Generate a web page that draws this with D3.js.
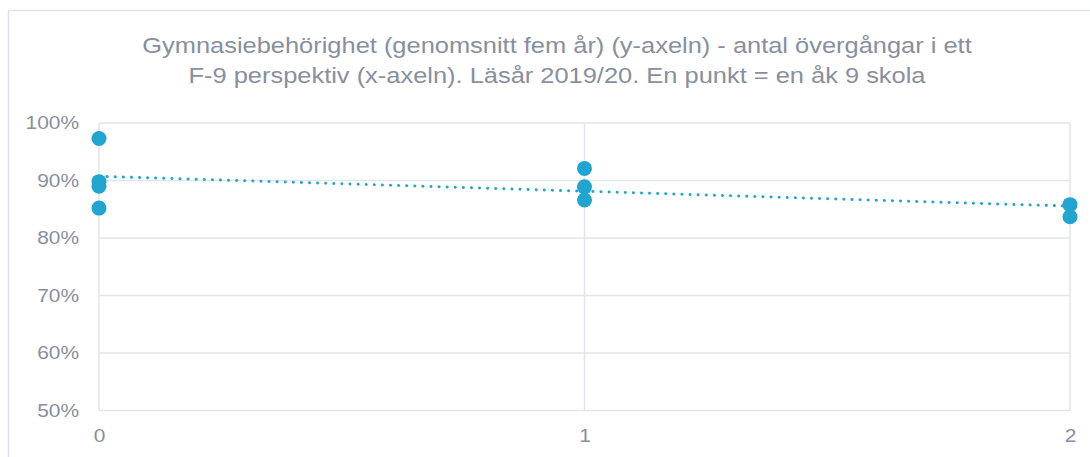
<!DOCTYPE html>
<html>
<head>
<meta charset="utf-8">
<script src="https://cdn.jsdelivr.net/npm/d3@7"></script>
<style>
  html, body { margin: 0; padding: 0; background: #fff; }
  svg { display: block; font-family: "Liberation Sans", Arial, sans-serif; }
</style>
</head>
<body>
<svg id="chart" width="1090" height="457"></svg>
<script>
// Number of transitions in an F-9 perspective (x) and five-year average eligibility (y)
const transitions = [0, 0, 0, 0, 1, 1, 1, 2, 2];
const eligibility = [0.973, 0.898, 0.890, 0.852, 0.921, 0.889, 0.866, 0.858, 0.837];
const xTicks = [0, 1, 2];
const yTicks = [0.5, 0.6, 0.7, 0.8, 0.9, 1.0];
const titleLines = [
  "Gymnasiebehörighet (genomsnitt fem år) (y-axeln) - antal övergångar i ett",
  "F-9 perspektiv (x-axeln). Läsår 2019/20. En punkt = en åk 9 skola"
];

const svg = d3.select("#chart");
const W = 1090, H = 457;
const plot = { left: 99, right: 1070, top: 123, bottom: 410.5 };
const dotColor = "#1fa5d0";
const gridColor = "#e3e5ea";
const textColor = "#878fa0";
const widen = 1.13; // labels are set slightly wider than the regular face

// Stretch each text horizontally by the widen factor
function widenText(sel) {
  sel.each(function () {
    const w = this.getComputedTextLength();
    d3.select(this).attr("textLength", w * widen).attr("lengthAdjust", "spacingAndGlyphs");
  });
}

// Outer chart frame
svg.append("rect")
  .attr("x", 8.5).attr("y", 10.5)
  .attr("width", W + 20).attr("height", H + 20)
  .attr("fill", "#fff").attr("stroke", "#dfe2e7").attr("stroke-width", 1.5);

const x = d3.scaleLinear().domain([0, 2]).range([plot.left, plot.right]);
const y = d3.scaleLinear().domain([0.5, 1.0]).range([plot.bottom, plot.top]);

// Title
svg.append("g")
  .selectAll("text").data(titleLines).join("text")
  .attr("x", 557)
  .attr("y", (d, i) => 53 + i * 29.5)
  .attr("text-anchor", "middle")
  .attr("fill", textColor)
  .style("font-size", "22.5px")
  .text(d => d)
  .call(widenText);

// Horizontal gridlines
svg.append("g")
  .selectAll("line").data(yTicks).join("line")
  .attr("x1", plot.left).attr("x2", plot.right)
  .attr("y1", d => y(d)).attr("y2", d => y(d))
  .attr("stroke", gridColor).attr("stroke-width", 1.5);

// Vertical gridlines
svg.append("g")
  .selectAll("line").data(xTicks).join("line")
  .attr("x1", d => x(d)).attr("x2", d => x(d))
  .attr("y1", plot.top).attr("y2", plot.bottom)
  .attr("stroke", gridColor).attr("stroke-width", 1.5);

// Y axis labels
const yAxis = d3.axisLeft(y).tickValues(yTicks).tickFormat(d3.format(".0%")).tickSize(0).tickPadding(20);
svg.append("g")
  .attr("transform", `translate(${plot.left},0)`)
  .call(yAxis)
  .call(g => g.select(".domain").remove())
  .call(g => g.selectAll("text").attr("fill", textColor).style("font-size", "18.5px").attr("font-family", null).call(widenText));

// X axis labels
const xAxis = d3.axisBottom(x).tickValues(xTicks).tickFormat(d3.format("d")).tickSize(0).tickPadding(18);
svg.append("g")
  .attr("transform", `translate(0,${plot.bottom})`)
  .call(xAxis)
  .call(g => g.select(".domain").remove())
  .call(g => g.selectAll("text").attr("fill", textColor).style("font-size", "18.5px").attr("font-family", null).call(widenText));

// Linear trendline (least squares)
const n = transitions.length;
const mx = d3.mean(transitions), my = d3.mean(eligibility);
let sxy = 0, sxx = 0;
for (let i = 0; i < n; i++) {
  sxy += (transitions[i] - mx) * (eligibility[i] - my);
  sxx += (transitions[i] - mx) ** 2;
}
const slope = sxy / sxx, intercept = my - slope * mx;
svg.append("line")
  .attr("x1", x(0)).attr("y1", y(intercept))
  .attr("x2", x(2)).attr("y2", y(intercept + slope * 2))
  .attr("stroke", dotColor).attr("stroke-width", 3)
  .attr("stroke-linecap", "round")
  .attr("stroke-dasharray", "0.1 8");

// Schools
svg.append("g")
  .selectAll("circle").data(transitions.map((t, i) => [t, eligibility[i]])).join("circle")
  .attr("cx", d => x(d[0])).attr("cy", d => y(d[1]))
  .attr("r", 7.5)
  .attr("fill", dotColor);
</script>
</body>
</html>
